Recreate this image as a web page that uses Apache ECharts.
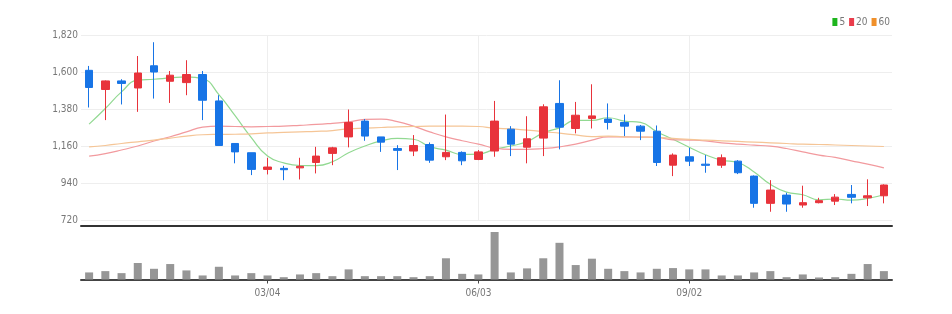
<!DOCTYPE html>
<html>
<head>
<meta charset="utf-8">
<script src="https://cdn.jsdelivr.net/npm/echarts@6/dist/echarts.min.js"></script>
<style>
html,body{margin:0;padding:0;background:#fff;}
#c{width:952px;height:314px;}
</style>
</head>
<body>
<div id="c"></div>
<script>
const dates = ['12/18','12/25','01/01','01/08','01/15','01/22','01/29','02/05','02/12','02/19','02/26','03/04','03/11','03/18','03/25','04/01','04/08','04/15','04/22','04/29','05/06','05/13','05/20','05/27','06/03','06/10','06/17','06/24','07/01','07/08','07/15','07/22','07/29','08/05','08/12','08/19','08/26','09/02','09/09','09/16','09/23','09/30','10/07','10/14','10/21','10/28','11/04','11/11','11/18','11/25'];
const opens  = [1610,1496,1547,1505,1637,1545,1537,1585,1428,1175,1120,1021,1027,1030,1062,1116,1214,1308,1214,1145,1130,1169,1096,1122,1080,1130,1260,1153,1207,1413,1264,1324,1320,1300,1278,1248,1046,1096,1052,1046,1070,981,819,868,809,823,832,872,852,864];
const closes = [1508,1547,1532,1594,1600,1581,1585,1432,1163,1125,1021,1035,1019,1039,1100,1149,1300,1219,1183,1134,1163,1076,1122,1072,1125,1308,1171,1203,1393,1272,1343,1339,1300,1278,1248,1062,1106,1070,1045,1090,1001,819,898,815,823,835,856,855,864,928];
const lows   = [1389,1314,1407,1363,1442,1416,1462,1314,1163,1057,987,991,957,961,997,1046,1152,1191,1125,1017,1100,1060,1076,1046,1076,1096,1100,1057,1100,1140,1235,1264,1258,1219,1195,1041,981,1041,1001,1030,993,793,769,769,793,819,809,819,803,819];
const highs  = [1636,1550,1557,1695,1777,1606,1670,1606,1462,1175,1120,1090,1042,1090,1155,1155,1377,1320,1214,1165,1225,1181,1347,1128,1136,1428,1278,1337,1408,1551,1422,1527,1413,1347,1285,1282,1116,1149,1106,1110,1076,985,957,882,924,852,874,928,962,932];
const ma5  = [1290,1383,1482,1552,1557,1565,1571,1561,1466,1340,1210,1100,1060,1044,1043,1066,1120,1160,1190,1205,1200,1156,1135,1110,1112,1140,1160,1186,1238,1268,1312,1312,1328,1308,1300,1245,1200,1153,1108,1076,1062,1005,932,886,870,840,845,838,848,870];
const ma20 = [1100,1115,1136,1160,1190,1215,1244,1272,1278,1276,1274,1276,1278,1283,1288,1295,1303,1318,1320,1305,1278,1244,1214,1191,1171,1148,1140,1140,1145,1155,1171,1195,1214,1214,1213,1211,1197,1195,1190,1179,1171,1165,1159,1145,1125,1106,1092,1072,1052,1030];
const ma60 = [1155,1163,1175,1185,1195,1207,1219,1227,1229,1230,1232,1238,1241,1244,1247,1252,1262,1266,1270,1274,1276,1278,1278,1278,1276,1266,1262,1254,1246,1236,1226,1216,1219,1214,1213,1211,1205,1199,1195,1191,1187,1183,1179,1175,1171,1169,1166,1163,1160,1157];
const volumes = [70000,83000,63000,163000,106000,153000,90000,40000,126000,40000,63000,40000,23000,50000,63000,33000,100000,33000,33000,33000,23000,33000,210000,56000,50000,470000,70000,110000,210000,363000,143000,206000,106000,83000,70000,106000,113000,100000,100000,40000,40000,70000,83000,23000,50000,20000,23000,56000,153000,83000];
const yTicks = [720,940,1160,1380,1600,1820];
const xTickLabels = ['03/04','06/03','09/02'];

const RED = '#e8333b', BLUE = '#1774e6';
const FONT = "'Liberation Sans Narrow','DejaVu Sans Condensed','Noto Sans',sans-serif";
const candleData = opens.map((o,i)=>[o, closes[i], lows[i], highs[i]]);
const showIdx = (i, v)=> xTickLabels.includes(v !== undefined ? v : dates[i]);

const chart = echarts.init(document.getElementById('c'), null, {renderer:'canvas'});
chart.setOption({
  animation:false,
  backgroundColor:'#fff',
  legend:{
    right:57, top:12, itemWidth:5, itemHeight:8, itemGap:4, icon:'rect',
    textStyle:{fontSize:10, color:'#777', fontFamily:FONT, padding:[0,0,0,-3]},
    data:[
      {name:'5', itemStyle:{color:'#1eb51e'}},
      {name:'20', itemStyle:{color:'#ea3c4b'}},
      {name:'60', itemStyle:{color:'#f0902a'}}
    ]
  },
  grid:[
    {left:81, right:60, top:35, height:185},
    {left:81, right:60, top:232, bottom:34.5}
  ],
  xAxis:[
    {type:'category', data:dates, gridIndex:0, boundaryGap:true, offset:6,
     axisLine:{show:true, lineStyle:{color:'#333', width:2}},
     axisTick:{show:false}, axisLabel:{show:false},
     splitLine:{show:false}},
    {type:'category', data:dates, gridIndex:1, boundaryGap:true,
     axisLine:{show:true, lineStyle:{color:'#444', width:2}},
     axisTick:{show:true, interval:showIdx, length:4, alignWithLabel:true, lineStyle:{color:'#444'}},
     axisLabel:{interval:showIdx, color:'#777', fontSize:10, margin:9, fontFamily:FONT},
     splitLine:{show:false}}
  ],
  yAxis:[
    {type:'value', gridIndex:0, min:720, max:1820, interval:220, scale:true,
     axisLine:{show:false}, axisTick:{show:false},
     axisLabel:{color:'#777', fontSize:10, margin:3, fontFamily:FONT,
       formatter:(v)=> yTicks.includes(v) ? v.toLocaleString('en-US') : ''},
     splitLine:{lineStyle:{color:'#eeeeee'}}},
    {type:'value', gridIndex:1, min:0, max:'dataMax',
     axisLine:{show:false}, axisTick:{show:false}, axisLabel:{show:false}, splitLine:{show:false}}
  ],
  series:[
    {type:'line', name:'grid', xAxisIndex:0, yAxisIndex:0, data:[], z:0, silent:true,
     markLine:{silent:true, z:0, symbol:'none', label:{show:false},
       lineStyle:{color:'#eeeeee', type:'solid', width:1},
       data: xTickLabels.map(d=>({xAxis:d}))}},
    {type:'candlestick', name:'price', xAxisIndex:0, yAxisIndex:0, data:candleData, barWidth:8, z:3,
     itemStyle:{color:RED, color0:BLUE, borderColor:RED, borderColor0:BLUE, borderWidth:1}},
    {type:'line', name:'5', data:ma5, smooth:true, showSymbol:false, xAxisIndex:0, yAxisIndex:0, z:3,
     itemStyle:{color:'#1eb51e'}, lineStyle:{color:'#92d992', width:1.2}},
    {type:'line', name:'20', data:ma20, smooth:true, showSymbol:false, xAxisIndex:0, yAxisIndex:0, z:3,
     itemStyle:{color:'#ea3c4b'}, lineStyle:{color:'#f29a9e', width:1.2}},
    {type:'line', name:'60', data:ma60, smooth:true, showSymbol:false, xAxisIndex:0, yAxisIndex:0, z:3,
     itemStyle:{color:'#f0902a'}, lineStyle:{color:'#f5c596', width:1.2}},
    {type:'bar', name:'vol', xAxisIndex:1, yAxisIndex:1, data:volumes, barWidth:8,
     itemStyle:{color:'#969696'}}
  ]
});
</script>
</body>
</html>
